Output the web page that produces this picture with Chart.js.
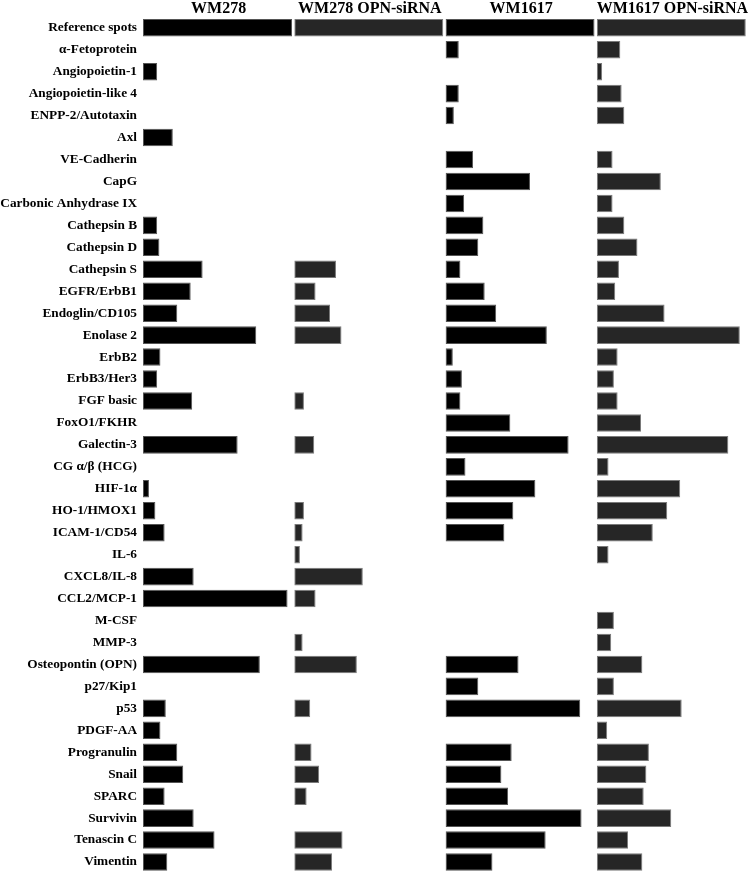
<!DOCTYPE html>
<html>
<head>
<meta charset="utf-8">
<script src="https://cdn.jsdelivr.net/npm/chart.js@4"></script>
<style>
	body { margin: 0; background: #fff; }
</style>
</head>
<body>
<canvas id="array-chart" width="749" height="873"></canvas>
<script>
const proteins = [
	"Reference spots", "α-Fetoprotein", "Angiopoietin-1", "Angiopoietin-like 4", "ENPP-2/Autotaxin",
	"Axl", "VE-Cadherin", "CapG", "Carbonic Anhydrase IX", "Cathepsin B",
	"Cathepsin D", "Cathepsin S", "EGFR/ErbB1", "Endoglin/CD105", "Enolase 2",
	"ErbB2", "ErbB3/Her3", "FGF basic", "FoxO1/FKHR", "Galectin-3",
	"CG α/β (HCG)", "HIF-1α", "HO-1/HMOX1", "ICAM-1/CD54", "IL-6",
	"CXCL8/IL-8", "CCL2/MCP-1", "M-CSF", "MMP-3", "Osteopontin (OPN)",
	"p27/Kip1", "p53", "PDGF-AA", "Progranulin", "Snail",
	"SPARC", "Survivin", "Tenascin C", "Vimentin"
]

const panels = ["WM278", "WM278 OPN-siRNA", "WM1617", "WM1617 OPN-siRNA"]

// relative spot intensity, reference spots = 100
const wm278 = [100, 0, 9.5, 0, 0, 20, 0, 0, 0, 9.5, 11, 40, 32, 23, 76, 11.7, 9.5, 33, 0, 63.5,
	0, 4, 8.3, 14.5, 0, 34, 97, 0, 0, 78.4, 0, 15.3, 11.7, 23, 27, 14.5, 34, 48, 16.3]
const wm278Si = [100, 0, 0, 0, 0, 0, 0, 0, 0, 0, 0, 28, 14.3, 24, 31.7, 0, 0, 6.5, 0, 13.4,
	0, 0, 6.5, 5.6, 3.8, 46, 14.3, 0, 5.6, 42, 0, 10.7, 0, 11.6, 16.7, 8.3, 0, 32.4, 25.4]
const wm1617 = [100, 8.9, 0, 8.9, 5.6, 0, 18.5, 56.7, 12.5, 25.4, 22, 10, 26.3, 34, 68, 4.9, 11, 10, 43.5, 82.6,
	13.4, 60.3, 45.5, 39.5, 0, 0, 0, 0, 0, 49, 22, 90.4, 0, 44.4, 37.5, 42, 91.3, 67.2, 31.5]
const wm1617Si = [100, 15.8, 3.6, 16.7, 18.5, 0, 10.6, 43, 10.6, 18.5, 27.3, 14.9, 12.4, 45.5, 96, 14, 11.5, 14, 29.7, 88.3,
	7.9, 56, 47.3, 37.6, 7.9, 0, 0, 11.5, 9.7, 30.6, 11.5, 57, 7, 35, 33.3, 31.5, 50, 21, 30.6]

const serif = "'Liberation Serif', 'Times New Roman', serif"

function panelAxis(title) {
	return {
		type: "linear",
		position: "top",
		stack: "panels",
		stackWeight: 1,
		min: 0,
		max: 101.5,
		ticks: { display: false },
		grid: { display: false, drawTicks: false },
		border: { display: false },
		title: {
			display: true,
			text: title,
			color: "#000",
			padding: 0,
			font: { family: serif, size: 16, weight: "bold", lineHeight: 1.05 }
		}
	}
}

function bars(data, axis, fill, edge) {
	return {
		data: data,
		xAxisID: axis,
		grouped: false,
		backgroundColor: fill,
		borderColor: edge,
		borderWidth: 1,
		borderSkipped: false,
		barPercentage: 0.8,
		categoryPercentage: 1
	}
}

new Chart(document.getElementById("array-chart").getContext("2d"), {
	type: "bar",
	data: {
		labels: proteins,
		datasets: [
			bars(wm278, "x1", "#000000", "#555555"),
			bars(wm278Si, "x2", "#262626", "#7a7a7a"),
			bars(wm1617, "x3", "#000000", "#555555"),
			bars(wm1617Si, "x4", "#262626", "#7a7a7a")
		]
	},
	options: {
		indexAxis: "y",
		responsive: false,
		animation: false,
		layout: {
			padding: { left: 0, right: 1, top: 0, bottom: 0 }
		},
		scales: {
			// stacked top axes are laid out from the last one, so list them backwards
			x4: panelAxis(panels[3]),
			x3: panelAxis(panels[2]),
			x2: panelAxis(panels[1]),
			x1: panelAxis(panels[0]),
			y: {
				type: "category",
				grid: { display: false, drawTicks: false },
				border: { display: false },
				ticks: {
					color: "#000",
					padding: 6,
					autoSkip: false,
					font: { family: serif, size: 13.3, weight: "bold" }
				},
				afterFit: function (scale) {
					scale.width = 143
					scale.paddingTop = 0
					scale.paddingBottom = 0
				}
			}
		},
		plugins: {
			legend: { display: false },
			tooltip: { enabled: false }
		}
	}
})
</script>
</body>
</html>
